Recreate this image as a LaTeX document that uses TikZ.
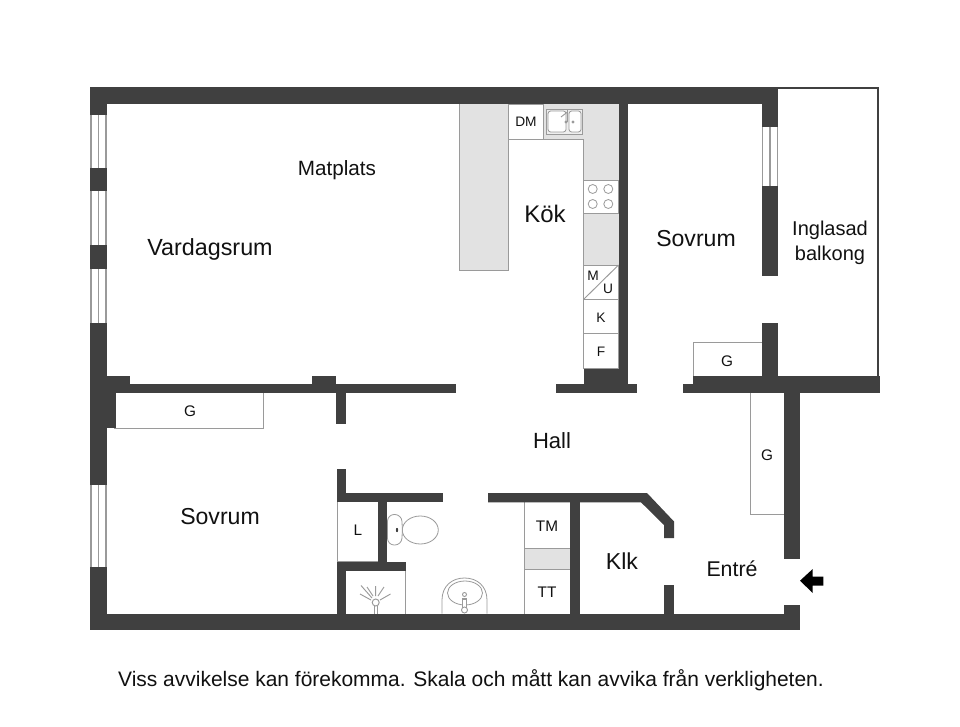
\documentclass[tikz,border=0pt]{standalone}
\usepackage{fontspec}
\setmainfont{Liberation Sans}
\definecolor{wallc}{HTML}{404040}
\definecolor{counter}{HTML}{E2E2E2}
\definecolor{thinc}{HTML}{9A9A9A}
\definecolor{ink}{HTML}{111111}
\tikzset{
  wall/.style={fill=wallc,draw=none},
  thinline/.style={draw=thinc,line width=0.7pt},
  unit/.style={draw=thinc,line width=0.7pt,fill=white},
  grayunit/.style={draw=thinc,line width=0.7pt,fill=counter},
  fixture/.style={draw=thinc,line width=0.6pt,fill=white},
  glass/.style={draw=thinc,line width=0.8pt,fill=white},
  room/.style={anchor=base,inner sep=0pt,text=ink,font=\fontsize{17.3}{20}\selectfont},
  small/.style={anchor=base,inner sep=0pt,text=ink,font=\fontsize{11.5}{13}\selectfont},
  tiny/.style={anchor=base,inner sep=0pt,text=ink,font=\fontsize{10.3}{12}\selectfont}
}
\begin{document}
\begin{tikzpicture}[x=0.75pt,y=-0.75pt]
\useasboundingbox (0,0) rectangle (960,727);
\fill[white] (0,0) rectangle (960,727);
% kitchen counters
\fill[counter] (459.5,104) rectangle (508.5,270);
\draw[thinline] (459.5,104) -- (459.5,270) -- (508.5,270) -- (508.5,139);
\fill[counter] (508.5,104) rectangle (618.5,139);
\fill[counter] (583.5,139) rectangle (618.5,265);
\draw[thinline] (508.5,139) -- (583.5,139) -- (583.5,180);
\draw[unit] (508.5,104) rectangle (543.5,139);
\draw[unit] (583.5,180) rectangle (618.5,213);
\draw[thinline] (583.5,213) -- (583.5,265);
\draw[unit] (583.5,265) rectangle (618.5,299.5);
\draw[thinline] (583.5,299.5) -- (618.5,265);
\draw[unit] (583.5,299.5) rectangle (618.5,333.5);
\draw[unit] (583.5,333.5) rectangle (618.5,368.5);
% sink
\draw[draw=thinc,line width=0.6pt,fill=counter!60!white] (546.5,109) rectangle (582.5,134);
\draw[draw=thinc,line width=0.6pt,fill=white,rounded corners=2pt] (548,111) rectangle (566,132);
\draw[draw=thinc,line width=0.6pt,fill=white,rounded corners=2pt] (569,111) rectangle (581,132);
\draw[thinline] (567.5,110) -- (567.5,122) (561,117) -- (567.5,112) (566,122) circle (1) (573,122) circle (1);
% hobs
\foreach \cx/\cy in {592.7/189,608.3/189,592.7/204,608.3/204}
  \draw[draw=thinc,line width=0.6pt] (\cx,\cy) circle (4.5);
% closets
\draw[unit] (114,391) rectangle (263,428);
\draw[unit] (693.5,342.5) rectangle (764,378);
\draw[unit] (750,390) rectangle (786,514);
\draw[unit] (337,500) rectangle (380,561);
\draw[unit] (524.5,500) rectangle (571,548);
\draw[grayunit] (524.5,548) rectangle (571,569);
\draw[unit] (524.5,569) rectangle (571,615);
% balcony frame
\draw[wallc,line width=1.7pt] (778,88) -- (878.2,88) -- (878.2,376);
% windows
\foreach \ya/\yb in {115/168,191/245,269/323,485/567}{
  \draw[glass] (91,\ya) -- (91,\yb) (98.5,\ya) -- (98.5,\yb) (106,\ya) -- (106,\yb);
}
\draw[glass] (762.5,127) -- (762.5,186) (770,127) -- (770,186) (777.5,127) -- (777.5,186);
% walls
\fill[wall] (90,87) rectangle (778,104);
\fill[wall] (90,87) rectangle (107,115);
\fill[wall] (90,168) rectangle (107,191);
\fill[wall] (90,245) rectangle (107,269);
\fill[wall] (90,323) rectangle (107,485);
\fill[wall] (90,567) rectangle (107,630);
\fill[wall] (90,613.5) rectangle (800,630);
\fill[wall] (107,376) rectangle (130,393);
\fill[wall] (107,383.5) rectangle (456,393);
\fill[wall] (107,393) rectangle (116,428);
\fill[wall] (312,376) rectangle (336,384);
\fill[wall] (336,393) rectangle (346,423.5);
\fill[wall] (336.5,469) rectangle (346,502);
\fill[wall] (336.5,493) rectangle (442.5,502.3);
\fill[wall] (378,502) rectangle (387.3,565);
\fill[wall] (336.5,561.5) rectangle (405.5,571);
\fill[wall] (336.5,571) rectangle (346,614);
\fill[wall] (570,500) rectangle (580,614);
\fill[wall] (488,493) -- (647,493) -- (674,521.5) -- (674,538) -- (664,538) -- (664,525) -- (641,502.3) -- (488,502.3) -- cycle;
\fill[wall] (664,584.5) rectangle (674,614);
\fill[wall] (618.5,104) rectangle (628,384);
\fill[wall] (583.5,368.5) rectangle (628,384);
\fill[wall] (556,383.7) rectangle (636.5,392.7);
\fill[wall] (762,104) rectangle (778,127);
\fill[wall] (762,186) rectangle (778,276);
\fill[wall] (762,323) rectangle (778,376);
\fill[wall] (693,375.5) rectangle (880,392.5);
\fill[wall] (682.5,383.5) rectangle (693,392.7);
\fill[wall] (783.5,392) rectangle (800,559);
\fill[wall] (783.5,604.5) rectangle (800,614);
% toilet
\draw[fixture] (420.3,530) ellipse (18 and 14);
\draw[fixture,rounded corners=5pt] (387.5,514.5) -- (401.5,514.5) -- (402.5,530) -- (401.5,545) -- (387.5,545) -- cycle;
\fill[wallc] (397,530) ellipse (1.1 and 2.2);
% basin
\draw[fixture] (442,613.5) -- (442,600) .. controls (442,586) and (452,578) .. (464.5,578) .. controls (477,578) and (487,586) .. (487,600) -- (487,613.5);
\draw[fixture] (465,593) ellipse (17.5 and 12);
\draw[draw=thinc,line width=0.7pt,fill=white] (464.5,594.5) circle (2);
\draw[draw=thinc,line width=1pt,fill=white] (462.5,599) rectangle (466.5,608);
\draw[draw=thinc,line width=0.7pt,fill=white] (464.5,610) circle (3);
% shower
\draw[thinline] (361,585.5) -- (372,598) (367,587) -- (373,596) (375.7,586) -- (375.7,596) (384,587) -- (378,596) (390.5,594) -- (380,600) (360,594) -- (371,600);
\draw[thinline] (374.2,606) -- (374.2,613.5) (377.2,606) -- (377.2,613.5);
\draw[thinline,fill=white] (375.7,602.5) circle (3.5);
\draw[draw=thinc,line width=0.6pt] (405.5,571) -- (405.5,613.5);
% entrance arrow
\fill[black] (800,580.7) -- (812.7,569) -- (812.7,576.7) -- (823.3,576.7) -- (823.3,585.7) -- (812.7,585.7) -- (812.7,593) -- cycle;
% labels
\node[room,font=\fontsize{17.5}{20}\selectfont] (vardagsrum) at (210,256) {Vardagsrum};
\node[room,font=\fontsize{15.5}{18}\selectfont] (matplats) at (337,175.5) {Matplats};
\node[room,font=\fontsize{18}{21}\selectfont] (kok) at (545,223) {Kök};
\node[room] (sovrumA) at (696,247) {Sovrum};
\node[room,font=\fontsize{16.5}{20}\selectfont] (hall) at (552,448) {Hall};
\node[room] (sovrumB) at (220,524) {Sovrum};
\node[room] (klk) at (622,569) {Klk};
\node[room,font=\fontsize{16}{19}\selectfont] (entre) at (732,576) {Entré};
\node[room,font=\fontsize{15}{18}\selectfont] (inglasad) at (830,236) {Inglasad};
\node[room,font=\fontsize{15}{18}\selectfont] (balkong) at (830,261) {balkong};
\node[room,font=\fontsize{15.73}{18}\selectfont] (footer) at (471,686) {Viss avvikelse kan förekomma. Skala och mått kan avvika från verkligheten.};
\node[small] (g1) at (190,416) {G};
\node[tiny] (dm) at (526,127) {DM};
\node[tiny] (m) at (593,281) {M};
\node[tiny] (u) at (608,294) {U};
\node[tiny] (k) at (601,322) {K};
\node[tiny] (f) at (601,356) {F};
\node[small] (g2) at (727,366) {G};
\node[small] (g3) at (767,460) {G};
\node[small] (l) at (358,535) {L};
\node[small] (tm) at (547,531) {TM};
\node[small] (tt) at (547,597) {TT};
\end{tikzpicture}
\end{document}
